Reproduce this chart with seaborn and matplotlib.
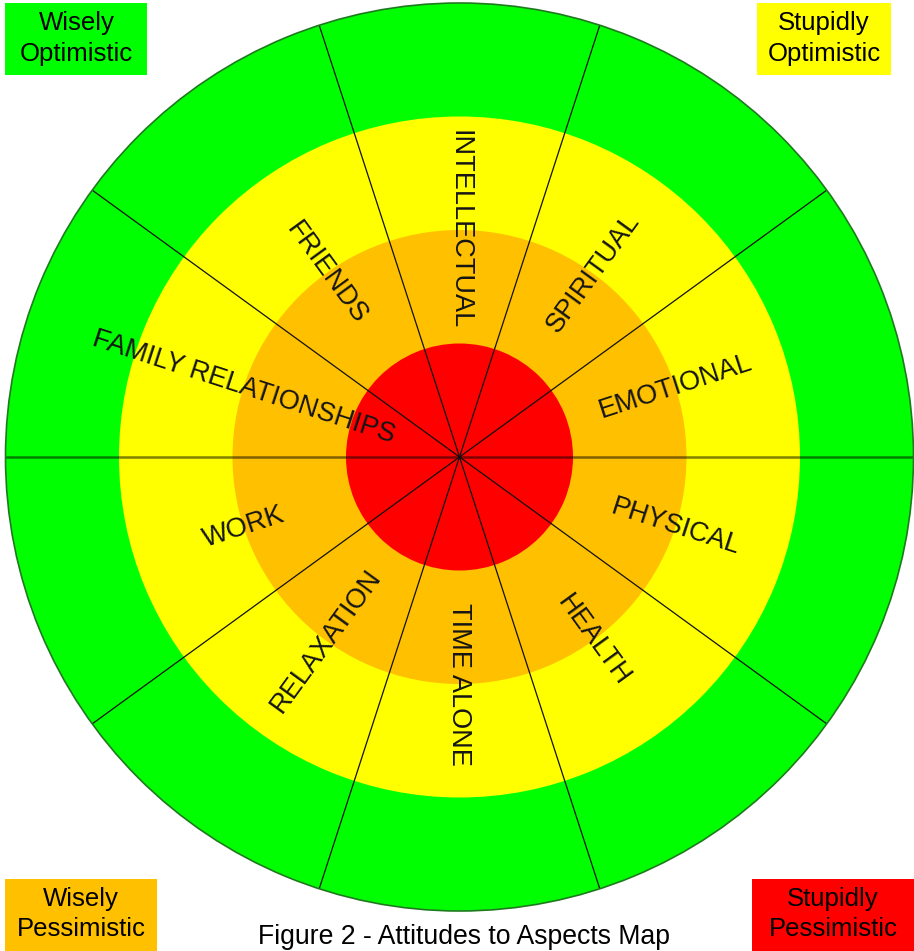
import matplotlib.pyplot as plt
import numpy as np
import seaborn as sns
from matplotlib.patches import Rectangle

# aspects around the wheel, one per 36 degree sector (counter-clockwise from east)
sectors = ["EMOTIONAL", "SPIRITUAL", "INTELLECTUAL", "FRIENDS", "FAMILY RELATIONSHIPS",
           "WORK", "RELAXATION", "TIME ALONE", "HEALTH", "PHYSICAL"]
sector_deg = [18, 54, 90, 126, 162, 198, 234, 270, 306, 342]
spoke_deg = [0, 36, 72, 108, 144, 180, 216, 252, 288, 324]

# rings drawn outer to inner
ring_radius = [4, 3, 2, 1]
ring_colors = ["#00ff00", "#ffff00", "#ffc000", "#ff0000"]
label_radius = 2.0

corner_labels = [("Wisely", "Optimistic"), ("Stupidly", "Optimistic"),
                 ("Wisely", "Pessimistic"), ("Stupidly", "Pessimistic")]
corner_colors = ["#00ff00", "#ffff00", "#ffc000", "#ff0000"]
caption = "Figure 2 - Attitudes to Aspects Map"

W, H = 914, 951

sns.set_theme(style="white")
plt.rcParams["font.family"] = ["Liberation Sans", "DejaVu Sans"]


def fx(x):
    return x / W


def fy(y):
    return (H - y) / H


fig = plt.figure(figsize=(W / 100, H / 100), dpi=100)
fig.patch.set_facecolor("white")

ax = fig.add_axes([fx(5.5), fy(911), 908 / W, 908 / H], projection="polar")
ax.set_facecolor("none")

for r, c in zip(ring_radius, ring_colors):
    ax.bar(0, r, width=2 * np.pi, bottom=0, color=c, linewidth=0, antialiased=True)

for d in spoke_deg:
    t = np.deg2rad(d)
    if d in (0, 180):
        ax.plot([t, t], [0, ring_radius[0]], color="#000000", lw=1.8, alpha=0.5)
    else:
        ax.plot([t, t], [0, ring_radius[0]], color="#111111", lw=0.9)

for name, d in zip(sectors, sector_deg):
    rot = ((d + 90) % 180) - 90
    ax.text(np.deg2rad(d), label_radius, name, rotation=rot, rotation_mode="anchor",
            ha="center", va="center", fontsize=19.5, color="#151515")

ax.set_ylim(0, ring_radius[0])
ax.set_xticks([])
ax.set_yticks([])
ax.grid(False)
ax.spines["polar"].set_color("#1f7a1f")
ax.spines["polar"].set_linewidth(1.2)

# corner legend boxes: (left, top, right, bottom) in pixels, text centre x, baselines
boxes = [
    ((5, 3, 147, 75), 76.5, (30, 61)),
    ((757, 3, 891, 75), 824, (30, 61)),
    ((5, 879, 157, 960), 81, (906, 936)),
    ((752, 879, 920, 960), 833, (906, 936)),
]
for ((l, t, r, b), cx, (b1, b2)), lines, col in zip(boxes, corner_labels, corner_colors):
    fig.patches.append(Rectangle((fx(l), fy(b)), (r - l) / W, (b - t) / H,
                                 transform=fig.transFigure, facecolor=col,
                                 edgecolor="none", zorder=5))
    fig.text(fx(cx), fy(b1), lines[0], ha="center", va="baseline", fontsize=18.5,
             color="black", zorder=6)
    fig.text(fx(cx), fy(b2), lines[1], ha="center", va="baseline", fontsize=18.5,
             color="black", zorder=6)

fig.text(fx(464), fy(944), caption, ha="center", va="baseline", fontsize=19.2, color="black")

plt.savefig("out.png", dpi=100)
plt.close(fig)
